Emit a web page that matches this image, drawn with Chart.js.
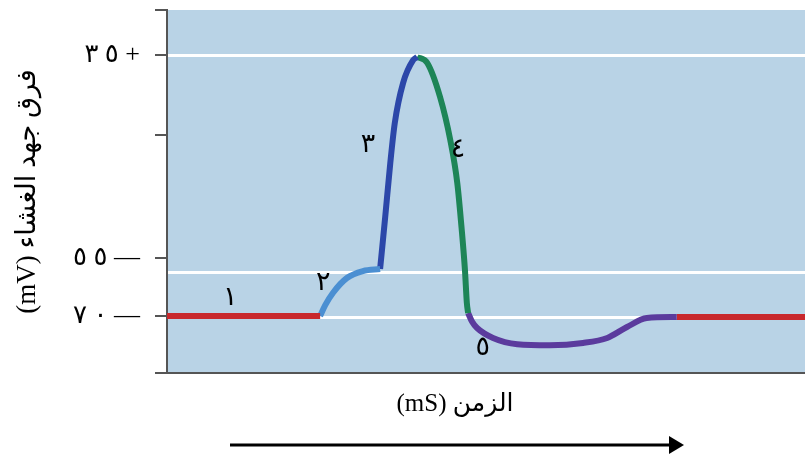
<!DOCTYPE html>
<html lang="ar">
<head>
    <meta charset="UTF-8">
    <title>جهد الفعل</title>
    <script src="https://cdn.jsdelivr.net/npm/chart.js"></script>
    <style>
        body { margin: 0; background: #fff; }
        #wrap { width: 805px; height: 460px; }
    </style>
</head>
<body>
<div id="wrap"><canvas id="apChart" width="805" height="460"></canvas></div>
<script>
    const restX = [0, 24.0];
    const restY = [-70, -70];
    const riseX = [24.0, 24.8, 26.0, 28.2, 30.7, 33.4];
    const riseY = [-70, -65.6, -60.7, -54.7, -51.9, -51.1];
    const depolX = [33.4, 34.2, 35.0, 35.7, 37.0, 38.6, 39.2];
    const depolY = [-51.1, -30.2, -8.4, 7.6, 23.7, 33.0, 34.2];
    const repolX = [39.2, 40.8, 42.8, 44.4, 45.5, 46.2, 46.7, 47.0, 47.2];
    const repolY = [34.2, 31.8, 18.1, 0.8, -16.5, -35.4, -51.5, -64.8, -68.8];
    const hyperX = [47.2, 47.8, 48.6, 51.1, 54.9, 60.0, 65.2, 69.0, 72.1, 75.2, 79.9];
    const hyperY = [-68.8, -72.2, -74.8, -78.8, -81.3, -81.7, -80.8, -78.8, -74.4, -70.8, -70.4];
    const rest2X = [79.9, 100];
    const rest2Y = [-70.4, -70.4];

    const yMin = -92.9, yMax = 53.1;
    const yTickValues = [53.1, 35, 2.8, -46.7, -70, -92.9];
    // LRO keeps the spaced Arabic-Indic digits in their printed order
    const yTickLabels = ['', '\u202D٣ ٥ +\u202C', '', '\u202D٥ ٥ —\u202C', '\u202D٧ ٠ —\u202C', ''];
    const gridValues = [35, -52.3, -70.4];

    const phaseLabels = ['١', '٢', '٣', '٤', '٥'];
    const phaseLabelX = [9.9, 24.5, 31.5, 45.6, 49.5];
    const phaseLabelY = [-62.7, -56.7, -1.2, -3.2, -82.9];

    const FONT = "'Liberation Serif', 'DejaVu Sans', serif";

    function pts(xs, ys) {
        return xs.map((x, i) => ({ x: x, y: ys[i] }));
    }
    function seg(xs, ys, color) {
        return {
            data: pts(xs, ys),
            borderColor: color,
            borderWidth: 6,
            pointRadius: 0,
            fill: false,
            cubicInterpolationMode: 'monotone',
            borderCapStyle: 'butt',
            yAxisID: 'y'
        };
    }

    const bgPlugin = {
        id: 'bg',
        beforeDraw(chart) {
            const a = chart.chartArea, ctx = chart.ctx;
            ctx.save();
            ctx.fillStyle = '#b9d3e6';
            ctx.fillRect(a.left, a.top, a.right - a.left, a.bottom - a.top);
            ctx.restore();
        }
    };

    const extrasPlugin = {
        id: 'extras',
        afterDraw(chart) {
            const ctx = chart.ctx;
            const xs = chart.scales.x, ys = chart.scales.y;
            ctx.save();
            ctx.fillStyle = '#000';
            ctx.font = '27px ' + FONT;
            ctx.textAlign = 'center';
            ctx.textBaseline = 'middle';
            phaseLabels.forEach((t, i) => {
                ctx.fillText(t, xs.getPixelForValue(phaseLabelX[i]), ys.getPixelForValue(phaseLabelY[i]));
            });
            // x axis title, sits left of the axis centre in the original
            ctx.font = '25px ' + FONT;
            ctx.fillText('(mS) الزمن', 455, 404);
            // time arrow under the axis title
            ctx.strokeStyle = '#000';
            ctx.lineWidth = 3;
            ctx.beginPath();
            ctx.moveTo(230, 445);
            ctx.lineTo(672, 445);
            ctx.stroke();
            ctx.beginPath();
            ctx.moveTo(684, 445);
            ctx.lineTo(669, 436);
            ctx.lineTo(669, 454);
            ctx.closePath();
            ctx.fill();
            ctx.restore();
        }
    };

    const ctx = document.getElementById('apChart').getContext('2d');
    new Chart(ctx, {
        type: 'line',
        data: {
            datasets: [
                seg(restX, restY, '#c8282d'),
                seg(riseX, riseY, '#4b8fd2'),
                seg(depolX, depolY, '#2c47a9'),
                seg(repolX, repolY, '#1d8557'),
                seg(hyperX, hyperY, '#5b3b9d'),
                seg(rest2X, rest2Y, '#c8282d')
            ]
        },
        options: {
            responsive: false,
            animation: false,
            layout: { padding: { top: 10, right: 0, bottom: 0, left: 0 } },
            plugins: { legend: { display: false }, tooltip: { enabled: false } },
            scales: {
                x: {
                    type: 'linear',
                    min: 0,
                    max: 100,
                    ticks: { display: false },
                    grid: { display: false },
                    border: { color: '#555', width: 2 },
                    afterFit: s => { s.height = 87; s.paddingLeft = 0; s.paddingRight = 0; }
                },
                y: {
                    type: 'linear',
                    position: 'left',
                    min: yMin,
                    max: yMax,
                    afterBuildTicks: s => { s.ticks = yTickValues.map(v => ({ value: v })); },
                    afterFit: s => { s.width = 167; s.paddingTop = 0; s.paddingBottom = 0; },
                    ticks: {
                        autoSkip: false,
                        padding: 15,
                        color: '#000',
                        font: { family: FONT, size: 26 },
                        callback: (v, i) => yTickLabels[i]
                    },
                    grid: { drawOnChartArea: false, tickLength: 12, color: '#555', lineWidth: 2 },
                    border: { color: '#555', width: 2 },
                    title: {
                        display: true,
                        text: '(mV) فرق جهد الغشاء',
                        color: '#000',
                        font: { family: FONT, size: 27 },
                        padding: { top: 12, bottom: 0 }
                    }
                },
                yGrid: {
                    type: 'linear',
                    position: 'left',
                    min: yMin,
                    max: yMax,
                    afterBuildTicks: s => { s.ticks = gridValues.map(v => ({ value: v })); },
                    afterFit: s => { s.width = 0; s.paddingTop = 0; s.paddingBottom = 0; },
                    ticks: { display: false },
                    grid: { color: '#ffffff', lineWidth: 3, drawTicks: false },
                    border: { display: false }
                }
            }
        },
        plugins: [bgPlugin, extrasPlugin]
    });
</script>
</body>
</html>
